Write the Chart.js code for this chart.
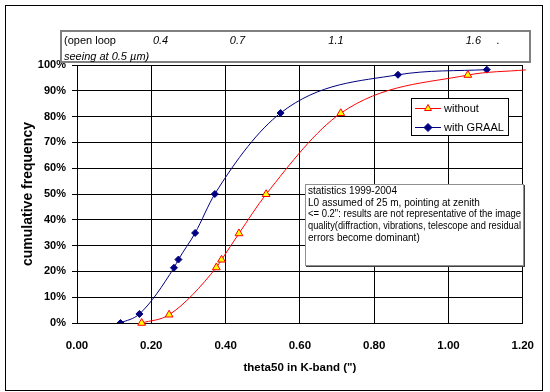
<!DOCTYPE html>
<html>
<head>
<meta charset="utf-8">
<script src="https://cdn.jsdelivr.net/npm/chart.js@4.4.0/dist/chart.umd.min.js"></script>
<style>
  body { margin: 0; background: #fff; }
  canvas { display: block; }
</style>
</head>
<body>
<canvas id="chart" width="550" height="392"></canvas>
<script>
// theta50 in K-band (") against cumulative frequency (%)
const withoutTheta = [0.174, 0.248, 0.375, 0.389, 0.436, 0.509, 0.710, 1.052, 1.208];
const withoutFreq  = [0, 3.2, 21.5, 24.5, 34.7, 49.9, 81.3, 96.1, 98.1];
const graalTheta = [0.117, 0.168, 0.261, 0.273, 0.318, 0.371, 0.548, 0.864, 1.103];
const graalFreq  = [0, 3.5, 21.4, 24.6, 34.9, 50, 81.4, 96.2, 98.2];

// open loop seeing strip on top, each label sits over a theta50 value
const seeingLabels = ['0.4', '0.7', '1.1', '1.6', '.'];
const seeingAt = [0.225, 0.432, 0.697, 1.067, 1.134];

const notes = [
  'statistics 1999-2004',
  'L0 assumed of 25 m, pointing at zenith',
  '<= 0.2": results are not representative of the image',
  'quality(diffraction, vibrations, telescope and residual',
  'errors become dominant)'
];

const FONT = '"Liberation Sans", Arial, sans-serif';

const toPoints = (xs, ys) => xs.map((x, i) => ({x: x, y: ys[i]}));

// boxes, legend and frame drawn on top of the plot
const decor = {
  id: 'decor',
  afterDraw(chart) {
    const ctx = chart.ctx;
    const xs = chart.scales.x;
    ctx.save();

    // outer frame
    ctx.strokeStyle = '#000';
    ctx.lineWidth = 1;
    ctx.strokeRect(5.5, 5.5, 537, 385);

    // seeing strip
    ctx.fillStyle = '#fff';
    ctx.fillRect(61, 31, 469, 31);
    ctx.strokeStyle = '#808080';
    ctx.lineWidth = 2;
    ctx.strokeRect(61, 31, 469, 31);
    ctx.fillStyle = '#000';
    ctx.textBaseline = 'middle';
    ctx.textAlign = 'left';
    ctx.font = '11px ' + FONT;
    ctx.fillText('(open loop', 64, 41);
    ctx.font = 'italic 11px ' + FONT;
    ctx.fillText('seeing at 0.5 \u00b5m)', 64, 57);
    ctx.textAlign = 'center';
    seeingLabels.forEach((t, i) => {
      ctx.fillText(t, xs.getPixelForValue(seeingAt[i]), 41);
    });

    // legend
    ctx.fillStyle = '#fff';
    ctx.fillRect(411, 98, 97, 38);
    ctx.strokeStyle = '#000';
    ctx.lineWidth = 1;
    ctx.strokeRect(411.5, 98.5, 97, 37);
    chart.data.datasets.forEach((ds, i) => {
      const y = 108.5 + i * 19;
      ctx.strokeStyle = ds.borderColor;
      ctx.lineWidth = 1;
      ctx.beginPath();
      ctx.moveTo(415, y);
      ctx.lineTo(441, y);
      ctx.stroke();
      ctx.fillStyle = ds.pointBackgroundColor;
      ctx.strokeStyle = ds.pointBorderColor;
      ctx.lineWidth = ds.pointBorderWidth;
      Chart.helpers.drawPoint(ctx, {pointStyle: ds.pointStyle, radius: 4, borderWidth: ds.pointBorderWidth}, 428, y);
      ctx.fillStyle = '#000';
      ctx.textAlign = 'left';
      ctx.font = '11px ' + FONT;
      ctx.fillText(ds.label, 444, y);
    });

    // notes box
    ctx.fillStyle = '#fff';
    ctx.fillRect(305, 184, 219, 82);
    ctx.strokeStyle = '#404040';
    ctx.lineWidth = 2;
    ctx.beginPath();
    ctx.moveTo(306, 266);
    ctx.lineTo(524, 266);
    ctx.lineTo(524, 185);
    ctx.stroke();
    ctx.strokeStyle = '#909090';
    ctx.lineWidth = 1;
    ctx.strokeRect(305.5, 184.5, 218, 81);
    ctx.fillStyle = '#000';
    ctx.font = '10px ' + FONT;
    notes.forEach((t, i) => {
      ctx.fillText(t, 308, 191 + i * 11.8, 213);
    });

    ctx.restore();
  }
};

new Chart(document.getElementById('chart'), {
  type: 'scatter',
  data: {
    datasets: [{
      label: 'without',
      data: toPoints(withoutTheta, withoutFreq),
      showLine: true,
      clip: false,
      borderColor: '#ff0000',
      borderWidth: 1,
      cubicInterpolationMode: 'monotone',
      pointStyle: 'triangle',
      pointRadius: withoutTheta.map((v, i) => i == withoutTheta.length - 1 ? 0 : 4.5),
      pointBackgroundColor: '#ffff00',
      pointBorderColor: '#ff0000',
      pointBorderWidth: 1
    }, {
      label: 'with GRAAL',
      data: toPoints(graalTheta, graalFreq),
      showLine: true,
      borderColor: '#000080',
      borderWidth: 1,
      cubicInterpolationMode: 'monotone',
      pointStyle: 'rectRot',
      pointRadius: 3.5,
      pointBackgroundColor: '#000080',
      pointBorderColor: '#000080',
      pointBorderWidth: 1
    }]
  },
  options: {
    responsive: false,
    animation: false,
    layout: { padding: { top: 65, right: 20, left: 0, bottom: 0 } },
    plugins: {
      legend: { display: false },
      tooltip: { enabled: false }
    },
    scales: {
      x: {
        type: 'linear',
        min: 0,
        max: 1.2,
        afterFit: s => { s.height = 69; },
        border: { color: '#000', width: 1 },
        grid: { color: '#000', lineWidth: 1, drawTicks: false },
        ticks: {
          stepSize: 0.2,
          padding: 16,
          color: '#000',
          font: { family: FONT, size: 11.5, weight: 'bold' },
          callback: v => v.toFixed(2)
        },
        title: {
          display: true,
          text: 'theta50 in K-band (")',
          color: '#000',
          font: { family: FONT, size: 11.5, weight: 'bold' },
          padding: { top: 0, bottom: 17 }
        }
      },
      y: {
        min: 0,
        max: 100,
        afterFit: s => { s.width = 77; },
        border: { color: '#000', width: 1 },
        grid: { color: '#000', lineWidth: 1, tickLength: 5 },
        ticks: {
          stepSize: 10,
          padding: 6,
          color: '#000',
          font: { family: FONT, size: 11, weight: 'bold' },
          callback: v => v + '%'
        },
        title: {
          display: true,
          text: 'cumulative frequency',
          color: '#000',
          font: { family: FONT, size: 14, weight: 'bold' },
          padding: { top: 20, bottom: 0 }
        }
      }
    }
  },
  plugins: [decor]
});
</script>
</body>
</html>
